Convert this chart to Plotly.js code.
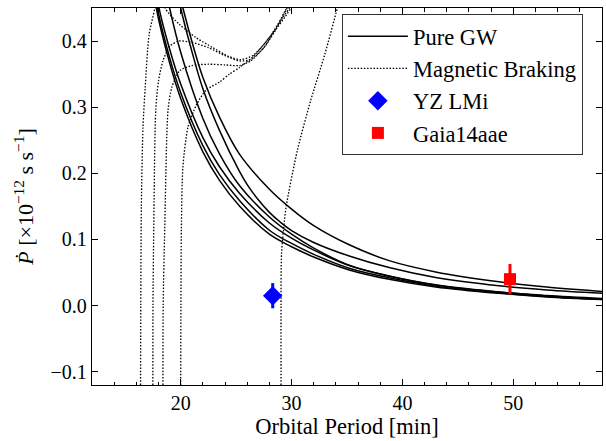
<!DOCTYPE html>
<html>
<head>
<meta charset="utf-8">
<script src="https://cdn.plot.ly/plotly-3.0.1.min.js"></script>
<style>html,body{margin:0;padding:0;background:#fff}#plot{width:606px;height:441px}</style>
</head>
<body>
<div id="plot"></div>
<script>
// ---- Pure GW tracks (orbital period [min], Pdot [1e-12 s/s]) ----
const gwA_P    = [19.9, 20.2, 21, 22, 23.5, 25.3, 28, 30, 32, 35.2, 38.8, 43, 48.7, 53, 58];
const gwA_Pdot = [0.47, 0.45, 0.40, 0.345, 0.285, 0.229, 0.176, 0.146, 0.121, 0.092, 0.068, 0.051, 0.036, 0.028, 0.0215];
const gwB_P    = [19.7, 20.0, 21, 22, 23.5, 25.3, 26, 27, 28, 29, 30, 32, 35.2, 38.8, 43, 48.7, 53, 58];
const gwB_Pdot = [0.475, 0.45, 0.385, 0.328, 0.265, 0.203, 0.183, 0.160, 0.141, 0.126, 0.1135, 0.0955, 0.075, 0.0575, 0.0425, 0.030, 0.0238, 0.0188];
const gwC_P    = [18.7, 19.0, 20, 22, 23.5, 25.3, 28, 30, 32, 35.2, 38.8, 43, 48.7, 53, 58];
const gwC_Pdot = [0.475, 0.45, 0.383, 0.283, 0.2295, 0.1816, 0.134, 0.108, 0.087, 0.061, 0.0445, 0.031, 0.0205, 0.0153, 0.0108];
const gwD_P    = [17.8, 18.05, 19, 20, 22, 23.5, 25.3, 28, 30, 32, 35.2, 38.8, 43, 48.7, 54.8];
const gwD_Pdot = [0.48, 0.45, 0.388, 0.335, 0.254, 0.210, 0.170, 0.125, 0.102, 0.084, 0.0605, 0.045, 0.0315, 0.0207, 0.012];
const gwE_P    = [17.7, 17.9, 19, 20, 22, 23.5, 25.3, 28, 30, 32, 35.2, 38.8, 43, 48.7, 53, 58];
const gwE_Pdot = [0.475, 0.45, 0.375, 0.322, 0.242, 0.198, 0.159, 0.114, 0.094, 0.0775, 0.0565, 0.042, 0.0295, 0.0193, 0.0138, 0.0097];
const gwF_P    = [17.6, 17.8, 19, 20, 22, 23.5, 25.3, 28, 30, 32, 35.2, 38.8, 43, 48.7, 53, 58];
const gwF_Pdot = [0.475, 0.45, 0.367, 0.313, 0.2325, 0.1894, 0.1506, 0.108, 0.089, 0.0735, 0.054, 0.0398, 0.0283, 0.0186, 0.0132, 0.0091];

// ---- Magnetic braking tracks ----
const mb1_P    = [16.38, 16.40, 16.45, 16.6, 16.8, 17.15, 17.66, 18.1, 18.6, 19.9, 21.4, 22.9, 24.3, 25.4, 26.5, 27.5, 28.5, 29.4, 30.0];
const mb1_Pdot = [-0.12, 0.0, 0.15, 0.27, 0.33, 0.41, 0.45, 0.52, 0.45, 0.425, 0.405, 0.39, 0.377, 0.372, 0.378, 0.395, 0.418, 0.445, 0.465];
const mb2_P    = [17.49, 17.50, 17.57, 17.75, 18.0, 18.4, 19.0, 19.8, 21.0, 22.5, 24.0, 25.3, 26.3, 27.5, 28.5, 29.6, 30.1];
const mb2_Pdot = [-0.12, 0.0, 0.116, 0.296, 0.34, 0.37, 0.392, 0.40, 0.398, 0.39, 0.378, 0.37, 0.372, 0.39, 0.415, 0.45, 0.465];
const mb3_P    = [18.40, 18.42, 18.56, 18.86, 19.2, 19.9, 21.0, 22.5, 24.0, 25.3, 26.3, 27.5, 28.6, 29.8, 30.3];
const mb3_Pdot = [-0.12, 0.0, 0.116, 0.296, 0.33, 0.355, 0.363, 0.365, 0.364, 0.363, 0.37, 0.39, 0.42, 0.45, 0.465];
const mb4_P    = [20.0, 20.02, 20.06, 20.2, 20.66, 21.4, 22.3, 23.5, 24.4, 25.3, 26.5, 27.5, 28.7, 29.95, 30.4];
const mb4_Pdot = [-0.12, 0.0, 0.116, 0.21, 0.27, 0.303, 0.326, 0.338, 0.35, 0.36, 0.376, 0.395, 0.42, 0.45, 0.465];
const mb5_P    = [29.05, 29.05, 29.1, 29.5, 30.54, 31.74, 33.0, 34.13, 34.6];
const mb5_Pdot = [-0.12, 0.0, 0.08, 0.148, 0.236, 0.311, 0.38, 0.45, 0.48];

// ---- Observed systems ----
const obsNames = ["YZ LMi", "Gaia14aae"];
const obsP     = [28.3, 49.7];
const obsPdot  = [0.015, 0.040];
const obsErr   = [0.019, 0.023];

// ---- Axis ticks ----
const xTicks = [20, 30, 40, 50];
const yTicks = [-0.1, 0.0, 0.1, 0.2, 0.3, 0.4];
const yTickText = ["\u22120.1", "0.0", "0.1", "0.2", "0.3", "0.4"];

const FONT = "Liberation Serif, Times New Roman, serif";
const traces = [];
const gw = [[gwA_P, gwA_Pdot], [gwB_P, gwB_Pdot], [gwC_P, gwC_Pdot], [gwD_P, gwD_Pdot], [gwE_P, gwE_Pdot], [gwF_P, gwF_Pdot]];
gw.forEach((c, i) => traces.push({
  x: c[0], y: c[1], mode: 'lines', type: 'scatter',
  line: {color: '#000', width: 1.5, shape: 'spline', smoothing: 1},
  name: 'Pure GW', legendgroup: 'gw', showlegend: i === 0, hoverinfo: 'skip'
}));
const mb = [[mb1_P, mb1_Pdot], [mb2_P, mb2_Pdot], [mb3_P, mb3_Pdot], [mb4_P, mb4_Pdot], [mb5_P, mb5_Pdot]];
mb.forEach((c, i) => traces.push({
  x: c[0], y: c[1], mode: 'lines', type: 'scatter',
  line: {color: '#000', width: 1.3, dash: '1.5px,1.7px', shape: 'spline', smoothing: 0.7},
  name: 'Magnetic Braking', legendgroup: 'mb', showlegend: i === 0, hoverinfo: 'skip'
}));
traces.push({
  x: [obsP[0]], y: [obsPdot[0]], mode: 'markers', type: 'scatter', name: obsNames[0], legendgroup: 'yz',
  marker: {symbol: 'diamond', size: 15, color: '#0000ff'},
  error_y: {type: 'data', array: [obsErr[0]], color: '#0000ff', thickness: 3, width: 0}
});
traces.push({
  x: [obsP[1]], y: [obsPdot[1]], mode: 'markers', type: 'scatter', name: obsNames[1], legendgroup: 'gaia',
  marker: {symbol: 'square', size: 12, color: '#ff0000'},
  error_y: {type: 'data', array: [obsErr[1]], color: '#ff0000', thickness: 3, width: 0}
});

const axisCommon = {
  showline: true, linecolor: '#000', linewidth: 1.3, mirror: 'ticks',
  ticks: 'inside', ticklen: 6, tickwidth: 1.1, tickcolor: '#000',
  showgrid: false, zeroline: false,
  tickfont: {family: FONT, size: 20, color: '#000'}
};
const layout = {
  width: 606, height: 441,
  margin: {l: 92, r: 4, t: 8, b: 56},
  paper_bgcolor: '#fff', plot_bgcolor: '#fff',
  font: {family: FONT, color: '#000'},
  showlegend: true,
  xaxis: Object.assign({}, axisCommon, {
    range: [12, 58], tickvals: xTicks, ticktext: xTicks.map(String),
    minor: {dtick: 2, tick0: 0, ticks: 'inside', ticklen: 3.5, tickwidth: 1, tickcolor: '#000'},
    title: {text: 'Orbital Period [min]', font: {family: FONT, size: 22.5, color: '#000'}, standoff: 5}
  }),
  yaxis: Object.assign({}, axisCommon, {
    range: [-0.12, 0.45], tickvals: yTicks, ticktext: yTickText,
    title: {text: '<i>Ṗ</i> [×10<sup>−12</sup> s s<sup>−1</sup>]', font: {family: FONT, size: 22, color: '#000'}, standoff: 10}
  }),
  legend: {
    x: 0.49, y: 0.984, xanchor: 'left', yanchor: 'top',
    bgcolor: '#fff', bordercolor: '#333', borderwidth: 1,
    font: {family: FONT, size: 22.5, color: '#000'},
    traceorder: 'grouped', tracegroupgap: 0, itemwidth: 60
  }
};
Plotly.newPlot('plot', traces, layout, {staticPlot: true, displayModeBar: false});
</script>
</body>
</html>
